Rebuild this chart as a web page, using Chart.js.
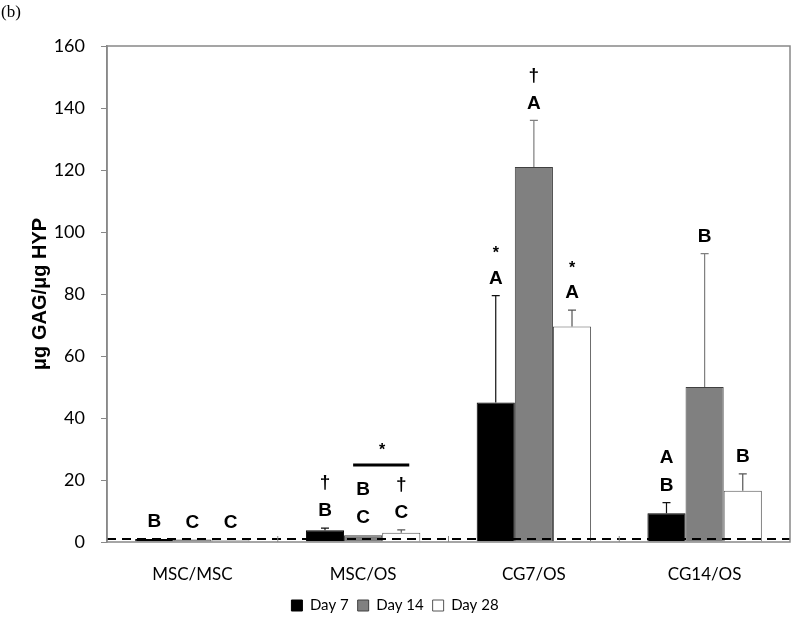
<!DOCTYPE html>
<html>
<head>
<meta charset="utf-8">
<script src="https://cdn.jsdelivr.net/npm/chart.js@4/dist/chart.umd.min.js"></script>
<style>
  html, body { margin: 0; padding: 0; background: #fff; }
  #wrap { position: relative; width: 800px; height: 618px; }
  #panel { position: absolute; left: 1px; top: 2px; font-family: "Liberation Serif", serif; font-size: 17px; color: #000; }
</style>
</head>
<body>
<div id="wrap">
  <canvas id="c" width="800" height="618"></canvas>
  <div id="panel">(b)</div>
</div>
<script>
// ---- data ----
const categories = ['MSC/MSC', 'MSC/OS', 'CG7/OS', 'CG14/OS'];
const seriesNames = ['Day 7', 'Day 14', 'Day 28'];
const day7 = [1.0, 3.8, 45, 9.3];
const day14 = [0.8, 2.2, 121, 50];
const day28 = [0.6, 3.0, 69.5, 16.5];
const day7Err = [0, 0.7, 34.5, 3.4];
const day14Err = [0, 0, 15, 43];
const day28Err = [0, 0.9, 5.3, 5.5];
const day7Labels = [['B'], ['†', 'B'], ['*', 'A'], ['A', 'B']];
const day14Labels = [['C'], ['B', 'C'], ['†', 'A'], ['B']];
const day28Labels = [['C'], ['†', 'C'], ['*', 'A'], ['B']];
const yTicks = [0, 20, 40, 60, 80, 100, 120, 140, 160];
const baselineValue = 1;
const bracket = { category: 1, fromSeries: 1, toSeries: 2, label: '*' };

const errs = [day7Err, day14Err, day28Err];
const labels = [day7Labels, day14Labels, day28Labels];
const errColors = ['#111', '#7f7f7f', '#555'];

const annotPlugin = {
  id: 'annot',
  afterDatasetsDraw(chart) {
    const ctx = chart.ctx;
    const y = chart.scales.y;
    const x = chart.scales.x;
    const area = chart.chartArea;
    ctx.save();
    // error bars
    chart.data.datasets.forEach((ds, di) => {
      const meta = chart.getDatasetMeta(di);
      meta.data.forEach((bar, i) => {
        const e = errs[di][i];
        if (e > 0) {
          const top = y.getPixelForValue(ds.data[i] + e);
          ctx.strokeStyle = errColors[di];
          ctx.lineWidth = 1.2;
          ctx.beginPath();
          ctx.moveTo(bar.x, bar.y);
          ctx.lineTo(bar.x, top);
          ctx.moveTo(bar.x - 4, top);
          ctx.lineTo(bar.x + 4, top);
          ctx.stroke();
        }
      });
    });
    // dashed baseline
    const by = y.getPixelForValue(baselineValue);
    ctx.strokeStyle = '#000';
    ctx.lineWidth = 2;
    ctx.setLineDash([9, 6]);
    ctx.beginPath();
    ctx.moveTo(area.left, by);
    ctx.lineTo(area.right, by);
    ctx.stroke();
    ctx.setLineDash([]);
    // letters
    ctx.fillStyle = '#000';
    ctx.textAlign = 'center';
    ctx.textBaseline = 'middle';
    const topLabelY = {};
    chart.data.datasets.forEach((ds, di) => {
      const meta = chart.getDatasetMeta(di);
      meta.data.forEach((bar, i) => {
        const lines = labels[di][i];
        const anchor = y.getPixelForValue(ds.data[i] + errs[di][i]);
        let cy = anchor - 17;
        for (let k = lines.length - 1; k >= 0; k--) {
          const t = lines[k];
          if (t === '*') {
            ctx.font = 'bold 16px "Liberation Sans", Arial, sans-serif';
            ctx.fillText(t, bar.x, cy + 3);
          } else {
            ctx.font = 'bold 19px "Liberation Sans", Arial, sans-serif';
            ctx.fillText(t, bar.x, cy);
          }
          topLabelY[di + '_' + i] = cy;
          cy -= 28;
        }
      });
    });
    // bracket
    const b1 = chart.getDatasetMeta(bracket.fromSeries).data[bracket.category];
    const b2 = chart.getDatasetMeta(bracket.toSeries).data[bracket.category];
    const ly = Math.min(topLabelY[bracket.fromSeries + '_' + bracket.category],
                        topLabelY[bracket.toSeries + '_' + bracket.category]) - 20;
    ctx.lineWidth = 3;
    ctx.beginPath();
    ctx.moveTo(b1.x - 10, ly);
    ctx.lineTo(b2.x + 8, ly);
    ctx.stroke();
    ctx.font = 'bold 16px "Liberation Sans", Arial, sans-serif';
    ctx.fillText(bracket.label, (b1.x + b2.x) / 2, ly - 14);
    // plot frame
    ctx.strokeStyle = '#888';
    ctx.lineWidth = 1.5;
    ctx.strokeRect(area.left, area.top, area.right - area.left, area.bottom - area.top);
    // inside category ticks
    ctx.lineWidth = 1;
    for (let i = 1; i < categories.length; i++) {
      const px = (x.getPixelForValue(i - 1) + x.getPixelForValue(i)) / 2;
      ctx.beginPath();
      ctx.moveTo(px, area.bottom);
      ctx.lineTo(px, area.bottom - 6);
      ctx.stroke();
    }
    ctx.restore();
  }
};

new Chart(document.getElementById('c'), {
  type: 'bar',
  data: {
    labels: categories,
    datasets: [
      { label: seriesNames[0], data: day7, backgroundColor: '#000000', borderColor: '#000000', borderWidth: 1 },
      { label: seriesNames[1], data: day14, backgroundColor: '#808080', borderColor: '#404040', borderWidth: 1 },
      { label: seriesNames[2], data: day28, backgroundColor: '#ffffff', borderColor: '#555555', borderWidth: 1 }
    ]
  },
  options: {
    responsive: false,
    animation: false,
    layout: { padding: { left: 0, right: 10, top: 46, bottom: -5 } },
    datasets: { bar: { categoryPercentage: 0.67, barPercentage: 1.0 } },
    plugins: {
      legend: {
        position: 'bottom',
        labels: {
          boxWidth: 11, boxHeight: 11, padding: 9, color: '#000',
          font: { family: 'Lato, "Open Sans", sans-serif', size: 15 }
        }
      },
      tooltip: { enabled: false }
    },
    scales: {
      x: {
        grid: { display: false },
        border: { display: false },
        ticks: { color: '#000', padding: 14, font: { family: 'Lato, "Open Sans", sans-serif', size: 17 } },
        afterFit(s) { s.height = 47; }
      },
      y: {
        min: 0, max: 160,
        afterBuildTicks(s) { s.ticks = yTicks.map(v => ({ value: v })); },
        grid: { drawOnChartArea: false, drawTicks: true, tickLength: 6, color: '#888' },
        border: { display: true, color: '#888', width: 1.5 },
        ticks: { color: '#000', padding: 16, font: { family: 'Lato, "Open Sans", sans-serif', size: 18 } },
        title: {
          display: true, text: 'μg GAG/μg HYP', color: '#000',
          font: { family: '"Liberation Sans", Arial, sans-serif', size: 20, weight: 'bold' },
          padding: { top: 28, bottom: 0 }
        },
        afterFit(s) { s.width = 107; }
      }
    }
  },
  plugins: [annotPlugin]
});
</script>
</body>
</html>
